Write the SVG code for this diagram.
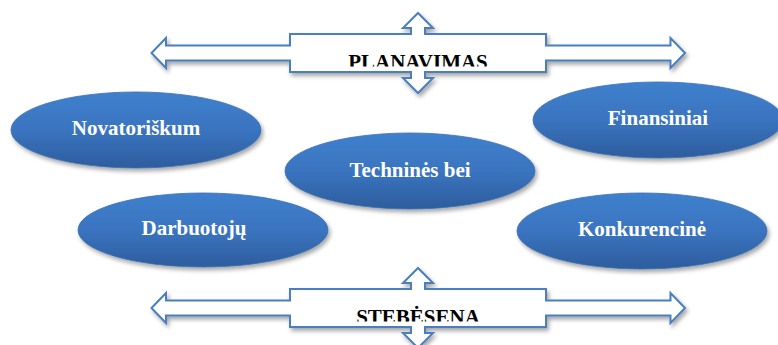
<svg xmlns="http://www.w3.org/2000/svg" width="778" height="345" viewBox="0 0 778 345">
  <style>
    .oval { fill: url(#blueGrad); stroke: #3a6fb0; stroke-width: 0.8; filter: url(#shadow); }
    .ovalText { font-family: "Liberation Serif", "Times New Roman", serif; font-weight: bold; font-size: 21px; fill: #ffffff; text-anchor: middle; }
    .arrow { fill: #ffffff; stroke: #4a7ebf; stroke-width: 2; stroke-linejoin: miter; filter: url(#shadow); }
    .arrowText { font-family: "Liberation Serif", "Times New Roman", serif; font-weight: bold; font-size: 21px; fill: #000000; text-anchor: middle; }
  </style>
  <defs>
    <linearGradient id="blueGrad" x1="0" y1="0" x2="0" y2="1">
      <stop offset="0" stop-color="#3f80cd"/>
      <stop offset="0.5" stop-color="#3a74c0"/>
      <stop offset="1" stop-color="#2d5d9d"/>
    </linearGradient>
    <filter id="shadow" x="-10%" y="-20%" width="125%" height="150%">
      <feDropShadow dx="2" dy="3" stdDeviation="2" flood-color="#000000" flood-opacity="0.35"/>
    </filter>
    <path id="quadArrow" d="M 418,13 L 433,28 L 425,28 L 425,34 L 546,34 L 546,45.5 L 670.5,45.5 L 670.5,38 L 685,53 L 670.5,68 L 670.5,60.5 L 546,60.5 L 546,72 L 425,72 L 425,78 L 433,78 L 418,93 L 403,78 L 411,78 L 411,72 L 290,72 L 290,60.5 L 166,60.5 L 166,68 L 151.5,53 L 166,38 L 166,45.5 L 290,45.5 L 290,34 L 411,34 L 411,28 L 403,28 Z"/>
    <clipPath id="clipTop"><rect x="292" y="36" width="252" height="30.5"/></clipPath>
    <clipPath id="clipBottom"><rect x="292" y="291" width="252" height="30.5"/></clipPath>
  </defs>

  <g id="connectors"></g>

  <g id="planavimas">
    <use href="#quadArrow" class="arrow"/>
    <text class="arrowText" x="418" y="68.5" clip-path="url(#clipTop)">PLANAVIMAS</text>
  </g>

  <g id="stebesena">
    <use href="#quadArrow" class="arrow" transform="translate(0,255)"/>
    <text class="arrowText" x="418" y="323.5" clip-path="url(#clipBottom)">STEBĖSENA</text>
  </g>

  <g id="novatoriskum">
    <ellipse class="oval" cx="136" cy="130" rx="125" ry="38"/>
    <text class="ovalText" x="136" y="135">Novatoriškum</text>
  </g>

  <g id="technines">
    <ellipse class="oval" cx="410" cy="171" rx="125" ry="38"/>
    <text class="ovalText" x="410" y="177">Techninės bei</text>
  </g>

  <g id="finansiniai">
    <ellipse class="oval" cx="658" cy="120" rx="125" ry="38"/>
    <text class="ovalText" x="658" y="125">Finansiniai</text>
  </g>

  <g id="darbuotoju">
    <ellipse class="oval" cx="203" cy="230" rx="125" ry="37"/>
    <text class="ovalText" x="194" y="235">Darbuotojų</text>
  </g>

  <g id="konkurencine">
    <ellipse class="oval" cx="642" cy="231" rx="125" ry="38"/>
    <text class="ovalText" x="642" y="236">Konkurencinė</text>
  </g>
</svg>
